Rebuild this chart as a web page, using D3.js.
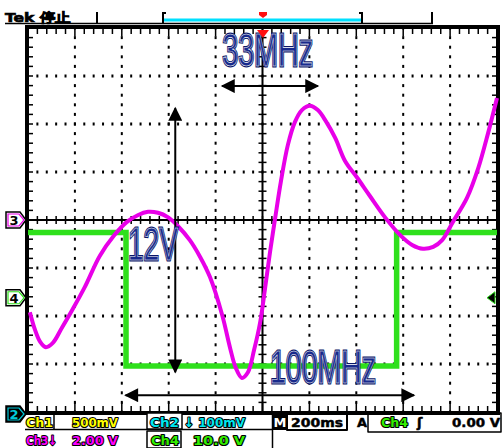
<!DOCTYPE html>
<html>
<head>
<meta charset="utf-8">
<script src="https://cdn.jsdelivr.net/npm/d3@7"></script>
<style>
  body { margin: 0; background: #fff; }
  svg { display: block; }
</style>
</head>
<body>
<div id="scope"></div>
<script>
// all trace values are in screen divisions (x: -5..5, y: -4..4)
var ch4Time  = [-5, -2.91, -2.91, 2.86, 2.86, 5];
var ch4Level = [-0.26, -0.26, -3.04, -3.04, -0.26, -0.26];

var ch3Time  = [-4.96, -4.85, -4.74, -4.62, -4.47, -4.28, -4.06, -3.79, -3.47, -3.17,
                -2.89, -2.66, -2.44, -2.23, -2.02, -1.80, -1.55, -1.33, -1.12, -0.86,
                -0.69, -0.57, -0.44, -0.31, -0.18, -0.05, 0.05, 0.16, 0.27, 0.39,
                0.54, 0.69, 0.84, 1.01, 1.18, 1.35, 1.55, 1.76, 2.02, 2.29,
                2.61, 2.93, 3.19, 3.42, 3.64, 3.83, 4.06, 4.36, 4.60, 4.81, 5.0];
var ch3Level = [-1.92, -2.29, -2.54, -2.65, -2.56, -2.25, -1.88, -1.40, -0.75, -0.33,
                -0.04, 0.10, 0.17, 0.15, 0.06, -0.13, -0.42, -0.77, -1.19, -1.98,
                -2.67, -3.08, -3.29, -3.17, -2.71, -2.13, -1.46, -0.67, 0.04, 0.79,
                1.56, 2.04, 2.29, 2.38, 2.29, 2.06, 1.71, 1.23, 0.88, 0.50,
                0.06, -0.31, -0.52, -0.60, -0.56, -0.42, -0.04, 0.46, 1.08, 1.81, 2.54];

// annotation arrows [x1, y1, x2, y2] in divisions, and labels
var arrowNames = ["33MHz", "12V", "100MHz"];
var arrowEnds  = [[-0.86, 2.79, 1.18, 2.79], [-1.86, 2.33, -1.86, -3.17], [-2.92, -3.65, 3.23, -3.65]];
var labelPos   = [[-0.86, 3.2], [-2.87, -0.83], [0.16, -3.4]];
var labelWidth = [91, 50, 106];

// readout texts
var readRow1 = ["Ch1", "500mV", "Ch2", "\u2193 100mV"];
var readRow2 = ["Ch3\u2193", "2.00 V", "Ch4", "10.0 V"];
var timeBase = "200ms";
var trigger  = ["Ch4", "\u0283", "0.00 V"];

var W = 503, H = 448;
var box = {left: 28, right: 497, top: 28, bottom: 412};

var x = d3.scaleLinear().domain([-5, 5]).range([box.left, box.right]);
var y = d3.scaleLinear().domain([-4, 4]).range([box.bottom, box.top]);

var svg = d3.select("#scope").append("svg")
    .attr("width", W).attr("height", H)
    .style("font-family", "'DejaVu Sans', sans-serif");

svg.append("rect").attr("width", W).attr("height", H).attr("fill", "#fff");

var grat = svg.append("g");

// dotted graticule lines
var minorX = d3.range(-5, 5.001, 0.2);
var minorY = d3.range(-4, 4.001, 0.2);
[-4, -3, -2, -1, 1, 2, 3, 4].forEach(function (gx) {
  grat.selectAll(null).data(minorY).enter().append("rect")
      .attr("x", x(gx) - 1).attr("y", d => y(d) - 1.5)
      .attr("width", 2).attr("height", 3).attr("fill", "#000");
});
[-3, -2, -1, 1, 2, 3].forEach(function (gy) {
  grat.selectAll(null).data(minorX).enter().append("rect")
      .attr("x", d => x(d) - 1).attr("y", y(gy) - 1.5)
      .attr("width", 2).attr("height", 3).attr("fill", "#000");
});

// centre axes with minor ticks
grat.append("line").attr("x1", x(0)).attr("x2", x(0)).attr("y1", box.top).attr("y2", box.bottom)
    .attr("stroke", "#000").attr("stroke-width", 2);
grat.append("line").attr("x1", box.left).attr("x2", box.right).attr("y1", y(0)).attr("y2", y(0))
    .attr("stroke", "#000").attr("stroke-width", 2);
grat.selectAll(null).data(minorY).enter().append("line")
    .attr("x1", x(0) - 4).attr("x2", x(0) + 4).attr("y1", d => y(d)).attr("y2", d => y(d))
    .attr("stroke", "#000").attr("stroke-width", 1.5);
grat.selectAll(null).data(minorX).enter().append("line")
    .attr("x1", d => x(d)).attr("x2", d => x(d)).attr("y1", y(0) - 4).attr("y2", y(0) + 4)
    .attr("stroke", "#000").attr("stroke-width", 1.5);

// edge ticks
grat.selectAll(null).data(minorX).enter().append("line")
    .attr("x1", d => x(d)).attr("x2", d => x(d))
    .attr("y1", box.top).attr("y2", d => box.top + (Math.abs(d - Math.round(d)) < 0.01 ? 8 : 6))
    .attr("stroke", "#000").attr("stroke-width", 1.5);
grat.selectAll(null).data(minorX).enter().append("line")
    .attr("x1", d => x(d)).attr("x2", d => x(d))
    .attr("y1", box.bottom).attr("y2", d => box.bottom - (Math.abs(d - Math.round(d)) < 0.01 ? 10 : 6))
    .attr("stroke", "#000").attr("stroke-width", 1.5);
grat.selectAll(null).data(minorY).enter().append("line")
    .attr("y1", d => y(d)).attr("y2", d => y(d))
    .attr("x1", box.left).attr("x2", box.left + 5)
    .attr("stroke", "#000").attr("stroke-width", 1.5);
grat.selectAll(null).data(minorY).enter().append("line")
    .attr("y1", d => y(d)).attr("y2", d => y(d))
    .attr("x1", box.right).attr("x2", box.right - 5)
    .attr("stroke", "#000").attr("stroke-width", 1.5);

// frame
grat.append("rect")
    .attr("x", box.left - 1).attr("y", box.top - 1)
    .attr("width", box.right - box.left + 2).attr("height", box.bottom - box.top + 2)
    .attr("fill", "none").attr("stroke", "#000").attr("stroke-width", 4);

// traces
var line = d3.line().x(d => x(d[0])).y(d => y(d[1]));

svg.append("path")
    .datum(ch4Time.map((t, i) => [t, ch4Level[i]]))
    .attr("d", line)
    .attr("fill", "none").attr("stroke", "#2fe01c").attr("stroke-width", 5.5);

svg.append("path")
    .datum(ch3Time.map((t, i) => [t, ch3Level[i]]))
    .attr("d", line.curve(d3.curveCatmullRom))
    .attr("fill", "none").attr("stroke", "#e800e8").attr("stroke-width", 4)
    .attr("stroke-linejoin", "round");

// arrows
var defs = svg.append("defs");
defs.append("marker").attr("id", "head")
    .attr("viewBox", "0 0 10 10").attr("refX", 9).attr("refY", 5)
    .attr("markerWidth", 9).attr("markerHeight", 7).attr("orient", "auto-start-reverse")
    .attr("markerUnits", "strokeWidth")
    .append("path").attr("d", "M0,0 L10,5 L0,10 Z").attr("fill", "#000");

svg.selectAll(null).data(arrowEnds).enter().append("line")
    .attr("x1", d => x(d[0])).attr("y1", d => y(d[1]))
    .attr("x2", d => x(d[2])).attr("y2", d => y(d[3]))
    .attr("stroke", "#000").attr("stroke-width", 2)
    .attr("marker-start", "url(#head)").attr("marker-end", "url(#head)");

// big labels (navy with thin white inner line)
var labels = svg.append("g")
    .style("font-family", "'Liberation Sans Narrow', 'Liberation Sans', Arial, sans-serif")
    .style("font-size", "47px");
labels.selectAll(null).data(arrowNames).enter().append("text")
    .attr("x", (d, i) => x(labelPos[i][0])).attr("y", (d, i) => y(labelPos[i][1]))
    .attr("textLength", (d, i) => labelWidth[i]).attr("lengthAdjust", "spacingAndGlyphs")
    .attr("fill", "#0a1668").attr("stroke", "#0a1668").attr("stroke-width", 3)
    .text(d => d);
labels.selectAll(null).data(arrowNames).enter().append("text")
    .attr("x", (d, i) => x(labelPos[i][0])).attr("y", (d, i) => y(labelPos[i][1]))
    .attr("textLength", (d, i) => labelWidth[i]).attr("lengthAdjust", "spacingAndGlyphs")
    .attr("fill", "#182a8c").attr("stroke", "#fff").attr("stroke-width", 0.6)
    .text(d => d);

// ground markers on the left
function marker(yPos, num, col, bg) {
  var g = svg.append("g").attr("transform", "translate(6," + (yPos - 8) + ")");
  g.append("path").attr("d", "M0,0 H14 L20,8 L14,16 H0 Z")
      .attr("fill", bg).attr("stroke", "#000").attr("stroke-width", 1.5);
  g.append("path").attr("d", "M2,2 H13 L18,8 L13,14 H2 Z")
      .attr("fill", "none").attr("stroke", col).attr("stroke-width", 1.2);
  g.append("text").attr("x", 8).attr("y", 13).attr("text-anchor", "middle")
      .attr("font-size", 13).attr("font-weight", "bold")
      .attr("fill", bg === "#000" ? col : "#000").text(num);
}
marker(y(0), "3", "#e800e8", "#fff");
marker(y(-1.62), "4", "#2fe01c", "#fff");
marker(414, "2", "#00c8d8", "#000");

// trigger level marker right
svg.append("path")
    .attr("d", "M" + (box.right - 2) + "," + (y(-1.62) - 6) + " L" + (box.right - 10) + "," + y(-1.62) +
          " L" + (box.right - 2) + "," + (y(-1.62) + 6) + " Z")
    .attr("fill", "#000").attr("stroke", "#2fe01c").attr("stroke-width", 1);

// top status bar
svg.append("text").attr("x", 5).attr("y", 22)
    .attr("font-size", 13).attr("font-weight", "bold").attr("fill", "#000")
    .attr("stroke", "#000").attr("stroke-width", 0.7)
    .attr("textLength", 66).attr("lengthAdjust", "spacingAndGlyphs")
    .text("Tek \u505c\u6b62");
svg.append("line").attr("x1", 5).attr("x2", 433).attr("y1", 23.5).attr("y2", 23.5)
    .attr("stroke", "#000").attr("stroke-width", 1.5);
[97, 432].forEach(function (px) {
  svg.append("line").attr("x1", px).attr("x2", px).attr("y1", 12).attr("y2", 24)
      .attr("stroke", "#000").attr("stroke-width", 2);
});
svg.append("rect").attr("x", 163).attr("y", 18.5).attr("width", 199).attr("height", 3)
    .attr("fill", "#00e0ff");
svg.append("path").attr("d", "M166,13 H163 V23 M359,13 H362 V23")
    .attr("fill", "none").attr("stroke", "#000").attr("stroke-width", 2);
svg.append("path").attr("d", "M259,12 H267 V15 L263,18 L259,15 Z").attr("fill", "#ff1010");
svg.append("path").attr("d", "M257,30 H269 L263,38 Z").attr("fill", "#ff1010");

// bottom readout
var rd = svg.append("g").attr("font-size", 13).attr("font-weight", "bold")
    .attr("stroke-linejoin", "round");
function rtext(px, py, txt, col, w) {
  var t = rd.append("text").attr("x", px).attr("y", py).text(txt)
      .attr("fill", col).attr("stroke", "#000").attr("stroke-width", col === "#000" ? 0.5 : 2.2)
      .style("paint-order", "stroke");
  if (w) t.attr("textLength", w).attr("lengthAdjust", "spacingAndGlyphs");
  return t;
}
rd.append("line").attr("x1", 25).attr("x2", 272).attr("y1", 429.5).attr("y2", 429.5)
    .attr("stroke", "#000").attr("stroke-width", 1.5);
rd.append("line").attr("x1", 54).attr("x2", 54).attr("y1", 413).attr("y2", 430)
    .attr("stroke", "#000").attr("stroke-width", 1.5);
rd.append("rect").attr("x", 147).attr("y", 413).attr("width", 35).attr("height", 16)
    .attr("fill", "#fff").attr("stroke", "#000").attr("stroke-width", 1.5);
rd.append("rect").attr("x", 147).attr("y", 431).attr("width", 34).attr("height", 17)
    .attr("fill", "#fff").attr("stroke", "#000").attr("stroke-width", 1.5);
rd.append("line").attr("x1", 272.5).attr("x2", 272.5).attr("y1", 413).attr("y2", 448)
    .attr("stroke", "#000").attr("stroke-width", 1.5);

rtext(26, 427, readRow1[0], "#ffff00", 27);
rtext(72, 427, readRow1[1], "#ffff00", 46);
rtext(150, 427, readRow1[2], "#00e8f0", 29);
rtext(184, 427, readRow1[3], "#00e8f0", 61);

rtext(26, 445, readRow2[0], "#ff00ff", 31);
rtext(72, 445, readRow2[1], "#ff00ff", 46);
rtext(151, 445, readRow2[2], "#33ee00", 28);
rtext(193, 445, readRow2[3], "#33ee00", 52);

rd.append("rect").attr("x", 273).attr("y", 414).attr("width", 14).attr("height", 16).attr("fill", "#000");
rd.append("text").attr("x", 280).attr("y", 427).attr("text-anchor", "middle")
    .attr("fill", "#fff").text("M");
rd.append("rect").attr("x", 287).attr("y", 414).attr("width", 60).attr("height", 16)
    .attr("fill", "none").attr("stroke", "#000").attr("stroke-width", 2);
rtext(291, 427, timeBase, "#000", 52);
rtext(357, 427, "A", "#000");
rd.append("rect").attr("x", 368).attr("y", 413).attr("width", 133).attr("height", 19)
    .attr("fill", "none").attr("stroke", "#000").attr("stroke-width", 1.5);
rtext(381, 427, trigger[0], "#33ee00", 27);
rtext(417, 427, trigger[1], "#000");
rtext(452, 427, trigger[2], "#000", 48);
</script>
</body>
</html>
